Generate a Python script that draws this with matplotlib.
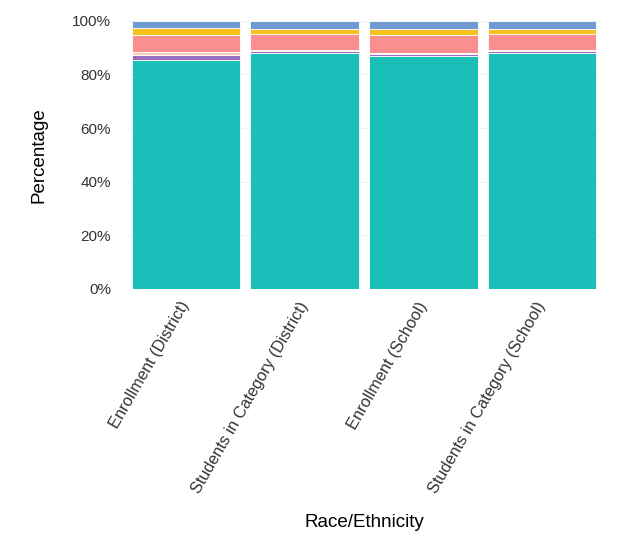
import numpy as np
import matplotlib.pyplot as plt

plt.rcParams['font.family'] = ['Liberation Sans', 'DejaVu Sans']

# Groups shown on the x axis
groups = ['Enrollment (District)', 'Students in Category (District)',
          'Enrollment (School)', 'Students in Category (School)']

# Stacked shares (percent), bottom to top
teal = [85.2, 87.9, 86.9, 87.9]
purple = [2.2, 0.8, 0.7, 0.8]
light = [0.8, 0.4, 0.5, 0.4]
pink = [6.4, 5.8, 6.5, 5.8]
yellow = [2.6, 2.2, 2.5, 2.2]
blue = [2.8, 2.9, 2.9, 2.9]

series = [teal, purple, light, pink, yellow, blue]
colors = ['#1bbfba', '#9a6cc2', '#f6cdbb', '#f98f8f', '#f7c21d', '#709bd0']

fig = plt.figure(figsize=(6.2, 5.33), dpi=100)
ax = fig.add_axes([0.206, 0.458, 0.762, 0.503])

x = np.arange(len(groups))
bottom = np.zeros(len(groups))
for vals, c in zip(series, colors):
    v = np.array(vals) / 100
    ax.bar(x, v, width=0.915, bottom=bottom, color=c, edgecolor='white', linewidth=0.6)
    bottom += v

ax.set_xlim(-0.49, 3.49)
ax.set_ylim(0, 1)
ax.set_yticks([0, 0.2, 0.4, 0.6, 0.8, 1.0])
ax.set_yticklabels(['0%', '20%', '40%', '60%', '80%', '100%'])
ax.set_xticks(x)
ax.set_xticklabels(groups, rotation=60, ha='right', va='center', rotation_mode='anchor')
ax.tick_params(axis='both', length=0, labelcolor='#333333')
ax.tick_params(axis='x', pad=10, labelsize=11.8)
ax.tick_params(axis='y', pad=12, labelsize=11)
ax.yaxis.grid(True, color='#f2f2f2', linewidth=0.8)
ax.set_axisbelow(True)
for s in ax.spines.values():
    s.set_visible(False)

ax.set_ylabel('Percentage', fontsize=13.5, labelpad=18)
ax.set_xlabel('Race/Ethnicity', fontsize=13.5, labelpad=13)

fig.savefig('out.png', dpi=100)
